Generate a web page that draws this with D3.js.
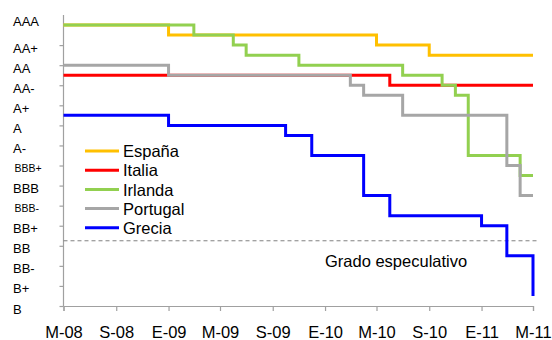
<!DOCTYPE html>
<html>
<head>
<meta charset="utf-8">
<script src="https://cdn.jsdelivr.net/npm/d3@7"></script>
<style>
  html, body { margin: 0; padding: 0; background: #fff; }
  svg { display: block; font-family: "Liberation Sans", Arial, sans-serif; }
</style>
</head>
<body>
<svg id="chart" width="552" height="340"></svg>
<script>
// Rating labels (index = notches below AAA)
const ratings = ["AAA","AA+","AA","AA-","A+","A","A-","BBB+","BBB","BBB-","BB+","BB","BB-","B+","B"];
// X tick labels (every 4 months, May 2008 - May 2011)
const tickLabels = ["M-08","S-08","E-09","M-09","S-09","E-10","M-10","S-10","E-11","M-11"];
// Series: [month, notches below AAA]
const espana   = [["2008-05",0],["2009-01",0.5],["2010-05",1],["2010-09",1.5],["2011-05",1.5]];
const italia   = [["2008-05",2.5],["2010-06",3],["2011-05",3]];
const irlanda  = [["2008-05",0],["2009-03",0.5],["2009-06",1],["2009-07",1.5],["2009-11",2],["2010-07",2.5],["2010-10",3],["2010-11",3.5],["2010-12",6.5],["2011-04",7.5],["2011-05",7.5]];
const portugal = [["2008-05",2],["2009-01",2.5],["2010-03",3],["2010-04",3.5],["2010-07",4.5],["2011-03",7],["2011-04",8.5],["2011-05",8.5]];
const grecia   = [["2008-05",4.5],["2009-01",5],["2009-10",5.5],["2009-12",6.5],["2010-04",8.5],["2010-06",9.5],["2011-01",10],["2011-03",11.5],["2011-05",13.5]];
const seriesNames = ["España","Italia","Irlanda","Portugal","Grecia"];
const seriesData = [espana, italia, irlanda, portugal, grecia];
const seriesColors = ["#FFC000","#FF0000","#92D050","#A6A6A6","#0000FF"];
const speculativeLevel = 10.75;
const speculativeLabel = "Grado especulativo";

const parse = d3.timeParse("%Y-%m");
const svg = d3.select("#chart");

const x = d3.scaleTime()
  .domain([parse("2008-05"), parse("2011-05")])
  .range([63.5, 533]);
const y = d3.scaleLinear().domain([-0.5, 14]).range([15, 306]);

const axisColor = "#A0A0A0";

// X axis
const xTicks = d3.timeMonth.every(4).range(parse("2008-05"), d3.timeMonth.offset(parse("2011-05"), 1));
const xAxis = d3.axisBottom(x)
  .tickValues(xTicks)
  .tickSize(5)
  .tickFormat((d, i) => tickLabels[i]);
const gx = svg.append("g").attr("transform", `translate(0,${y(14)})`).call(xAxis);
gx.select(".domain").attr("stroke", axisColor).attr("stroke-width", 1.2);
gx.selectAll(".tick line").attr("stroke", axisColor).attr("stroke-width", 1.2);
gx.selectAll(".tick text")
  .attr("fill", "#000")
  .attr("font-size", "16.5px")
  .attr("font-family", "Liberation Sans, Arial, sans-serif")
  .attr("dy", null)
  .attr("y", 32);

// Y axis
const yAxis = d3.axisLeft(y)
  .tickValues(d3.range(1, ratings.length))
  .tickSize(4)
  .tickFormat("");
const gy = svg.append("g").attr("transform", `translate(${x.range()[0]},0)`).call(yAxis);
gy.select(".domain").attr("stroke", axisColor).attr("stroke-width", 1.2).attr("d", `M0,${y(-0.5)}V${y(14)}`);
gy.selectAll(".tick line").attr("stroke", axisColor).attr("stroke-width", 1.2);

// Y labels (left aligned)
svg.append("g").selectAll("text").data(ratings).join("text")
  .attr("x", (d) => d.startsWith("BBB") && d.length > 3 ? 14.5 : 13)
  .attr("y", (d, i) => y(i) + (i === 0 ? -4 : 3))
  .attr("dy", "0.35em")
  .attr("font-size", (d) => d.startsWith("BBB") && d.length > 3 ? "10.5px" : "13px")
  .attr("fill", "#000")
  .text(d => d);

// Speculative grade line
svg.append("line")
  .attr("x1", x.range()[0]).attr("x2", 537)
  .attr("y1", y(speculativeLevel)).attr("y2", y(speculativeLevel))
  .attr("stroke", "#808080").attr("stroke-width", 1)
  .attr("stroke-dasharray", "4,3");
svg.append("text")
  .attr("x", 325).attr("y", y(speculativeLevel) + 26)
  .attr("font-size", "16.5px").attr("fill", "#000")
  .text(speculativeLabel);

// Series lines
const line = d3.line()
  .x(d => x(parse(d[0])))
  .y(d => y(d[1]))
  .curve(d3.curveStepAfter);
svg.append("g").selectAll("path").data(seriesData).join("path")
  .attr("d", line)
  .attr("fill", "none")
  .attr("stroke", (d, i) => seriesColors[i])
  .attr("stroke-width", 3)
  .attr("stroke-linejoin", "miter")
  .attr("stroke-linecap", "butt");

// Legend
const lg = svg.append("g").attr("transform", "translate(85,151)");
const rows = lg.selectAll("g").data(seriesNames).join("g")
  .attr("transform", (d, i) => `translate(0,${i * 19.2})`);
rows.append("line").attr("x1", 0).attr("x2", 34).attr("y1", 0).attr("y2", 0)
  .attr("stroke", (d, i) => seriesColors[i]).attr("stroke-width", 3);
rows.append("text").attr("x", 38).attr("y", 0).attr("dy", "0.38em")
  .attr("font-size", "16.5px").attr("fill", "#000").text(d => d);
</script>
</body>
</html>
